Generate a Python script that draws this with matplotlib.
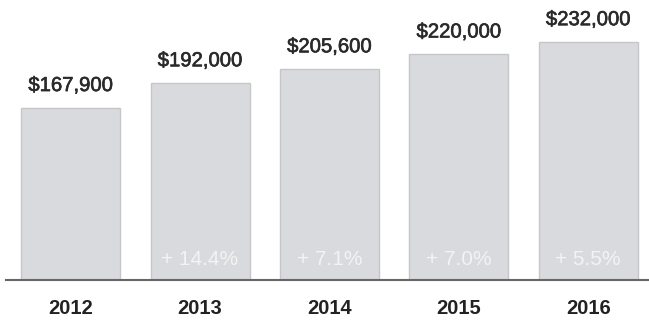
import matplotlib.pyplot as plt
import matplotlib.patheffects as pe

years = ["2012", "2013", "2014", "2015", "2016"]
prices = [167900, 192000, 205600, 220000, 232000]
growth = ["", "+ 14.4%", "+ 7.1%", "+ 7.0%", "+ 5.5%"]

plt.rcParams['font.family'] = ['Liberation Sans', 'DejaVu Sans']

fig = plt.figure(figsize=(6.49, 3.2), dpi=100)
ax = fig.add_axes([0.0092, 0.125, 0.9908, 0.875])

xs = range(len(years))
bars = ax.bar(xs, prices, width=0.765, color='#d9dadd', edgecolor='#c6c6c9', linewidth=1.0)

# price above each bar (regular face, thickened a bit)
for x, v in zip(xs, prices):
    ax.annotate(f"${v:,}", (x, v), xytext=(0, 9), textcoords='offset points',
                ha='center', va='bottom', fontsize=14.6, color='#2a2a2a',
                path_effects=[pe.withStroke(linewidth=0.45, foreground='#2a2a2a')])

# year-over-year change near the bottom of the bar
for x, g in zip(xs, growth):
    if g:
        ax.annotate(g, (x, 0), xytext=(0, 15), textcoords='offset points',
                    ha='center', va='center', fontsize=15, color='#f3f3f3')

ax.set_xlim(-0.5, 4.47)
ax.set_ylim(0, 272600)
ax.set_xticks(list(xs))
ax.set_xticklabels(years, fontsize=14.5, fontweight='bold', color='#222222')
ax.tick_params(axis='x', length=0, pad=14)
ax.set_yticks([])
for s in ['top', 'right', 'left']:
    ax.spines[s].set_visible(False)
ax.spines['bottom'].set_color('#666666')
ax.spines['bottom'].set_linewidth(1.5)

fig.savefig('out.png', dpi=100)
